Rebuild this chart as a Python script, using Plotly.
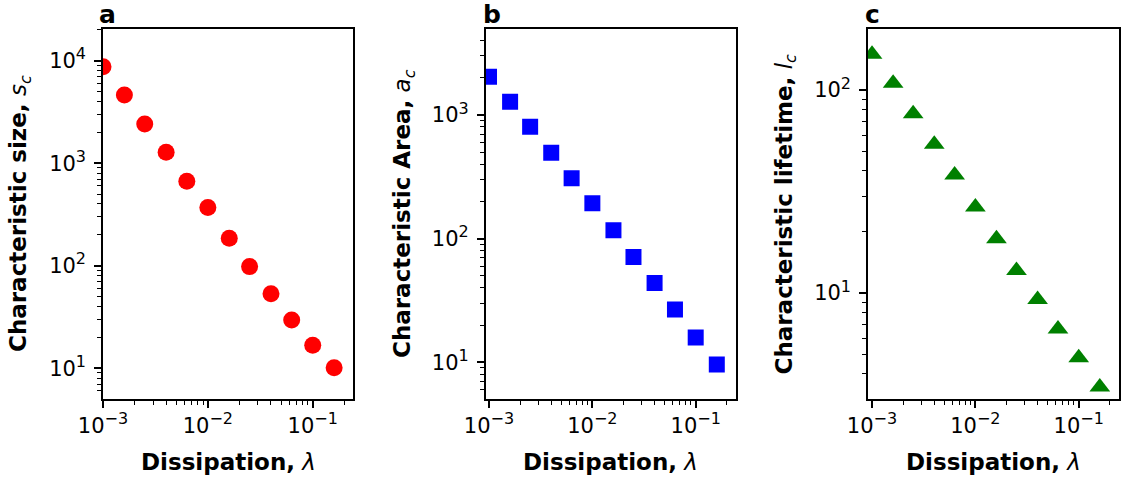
import plotly.graph_objects as go

# ---- data ----
dissipation = [0.001, 0.0016, 0.0025, 0.004, 0.0063, 0.01, 0.016, 0.025, 0.04, 0.063, 0.1, 0.16]
char_size = [8740, 4620, 2410, 1280, 665, 369, 185, 98, 53.3, 29.5, 16.8, 10.1]
char_area = [2040, 1280, 804, 495, 308, 193, 117, 71, 43.8, 26.7, 15.9, 9.6]
char_lifetime = [150, 108, 76.3, 54.1, 38.1, 26.5, 18.5, 12.9, 9.3, 6.65, 4.8, 3.44]

x_ticks = [1e-3, 1e-2, 1e-1]
x_exps = ["\u22123", "\u22122", "\u22121"]


def pow_label(e):
    return "10<sup><span style='font-size:16px'>" + e + "</span></sup>"


x_ticktext = [pow_label(e) for e in x_exps]

W, H = 1122, 483
FONT = "DejaVu Sans"

panels = [
    dict(y=char_size, color="#ff0000", symbol="circle", size=17,
         xpx=(103, 353.3), xrange=(-3.0, -0.613), yrange=(0.70, 4.306),
         yticks=[10, 100, 1000, 10000], yexps=["1", "2", "3", "4"],
         ytitle="<b>Characteristic size,</b> <i>s<sub>c</sub></i>", ytx=20, letter="a", lx=97),
    dict(y=char_area, color="#0000ff", symbol="square", size=16,
         xpx=(485.7, 735.7), xrange=(-3.032, -0.613), yrange=(0.703, 3.693),
         yticks=[10, 100, 1000], yexps=["1", "2", "3"],
         ytitle="<b>Characteristic Area,</b> <i>a<sub>c</sub></i>", ytx=404, letter="b", lx=481),
    dict(y=char_lifetime, color="#008000", symbol="triangle-up", size=18,
         xpx=(868, 1118.7), xrange=(-3.039, -0.613), yrange=(0.478, 2.299),
         yticks=[10, 100], yexps=["1", "2"],
         ytitle="<b>Characteristic lifetime,</b> <i>l<sub>c</sub></i>", ytx=785.5, letter="c", lx=863),
]

top_px, bot_px = 29.3, 399
fig = go.Figure()
annotations = []


def minor_vals(lo, hi):
    vals = []
    for e in range(lo, hi + 1):
        for m in range(2, 10):
            vals.append(m * 10 ** e)
    return vals


for i, p in enumerate(panels):
    n = "" if i == 0 else str(i + 1)
    xa = "x" + n
    ya = "y" + n
    fig.add_trace(go.Scatter(
        x=dissipation, y=p["y"], mode="markers", xaxis=xa, yaxis=ya,
        marker=dict(color=p["color"], symbol=p["symbol"], size=p["size"], line=dict(width=0)),
        showlegend=False,
    ))
    axis_common = dict(
        type="log", showline=True, linecolor="black", linewidth=1.5, mirror=True,
        ticks="outside", ticklen=7, tickwidth=1.5, tickcolor="black",
        showgrid=False, zeroline=False, automargin=False,
        tickfont=dict(family=FONT, size=21, color="black"),
        tickmode="array",
    )
    xd = [p["xpx"][0] / W, p["xpx"][1] / W]
    yd = [1 - bot_px / H, 1 - top_px / H]
    fig.layout["xaxis" + n] = dict(
        axis_common, domain=xd, range=list(p["xrange"]), anchor=ya,
        tickvals=x_ticks, ticktext=x_ticktext,
        minor=dict(tickmode="array", tickvals=minor_vals(-4, 0), ticks="outside",
                   ticklen=4, tickwidth=1.1, tickcolor="black", showgrid=False),
    )
    fig.layout["yaxis" + n] = dict(
        axis_common, domain=yd, range=list(p["yrange"]), anchor=xa,
        tickvals=p["yticks"], ticktext=[pow_label(e) for e in p["yexps"]],
        ticklabelstandoff=4,
        minor=dict(tickmode="array", tickvals=minor_vals(0, 4), ticks="outside",
                   ticklen=4, tickwidth=1.1, tickcolor="black", showgrid=False),
    )
    xc = (p["xpx"][0] + p["xpx"][1]) / 2
    annotations.append(dict(
        text="<b>Dissipation,</b> <i>\u03bb</i>", xref="paper", yref="paper",
        x=xc / W, y=1 - 462 / H, xanchor="center", yanchor="middle", showarrow=False,
        font=dict(family=FONT, size=23, color="black"),
    ))
    annotations.append(dict(
        text=p["ytitle"], xref="paper", yref="paper", textangle=-90,
        x=p["ytx"] / W, y=1 - 214 / H, xanchor="center", yanchor="middle", showarrow=False,
        font=dict(family=FONT, size=23, color="black"),
    ))
    annotations.append(dict(
        text="<b>" + p["letter"] + "</b>", xref="paper", yref="paper",
        x=p["lx"] / W, y=1 - 15 / H, xanchor="left", yanchor="middle", showarrow=False,
        font=dict(family=FONT, size=25, color="black"),
    ))

fig.update_layout(
    width=W, height=H, margin=dict(l=0, r=0, t=0, b=0),
    paper_bgcolor="white", plot_bgcolor="white",
    annotations=annotations,
)

fig.write_html("out.html")
